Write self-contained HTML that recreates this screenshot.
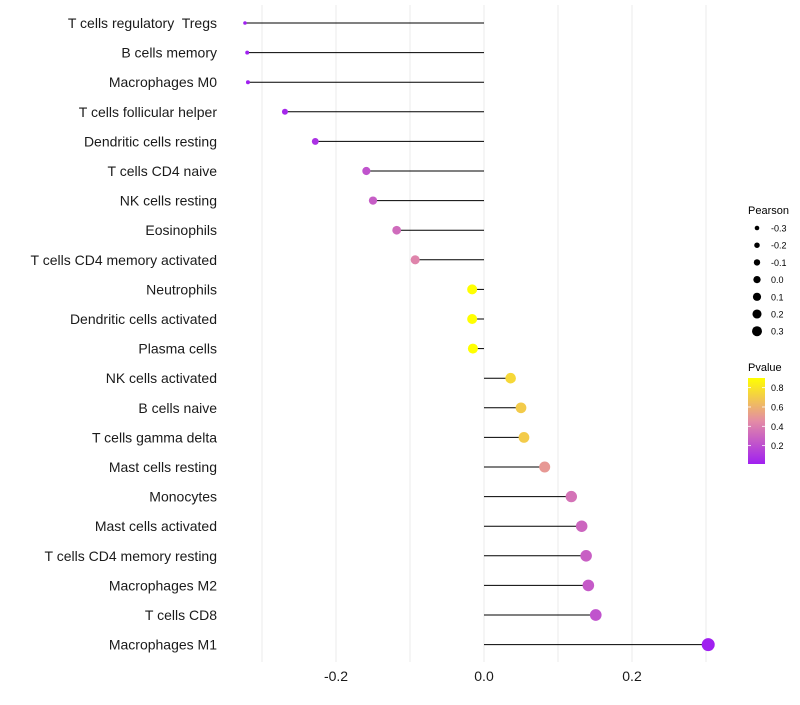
<!DOCTYPE html>
<html><head><meta charset="utf-8"><style>
body{margin:0;background:#fff;font-family:"Liberation Sans",sans-serif;}
text{white-space:pre;}
</style></head><body>
<svg id="chart" width="800" height="700" xmlns="http://www.w3.org/2000/svg" font-family="Liberation Sans, sans-serif">
<g id="grid"></g>
<g id="marks"></g>
<g id="ylab"></g>
<g id="xlab"></g>
<g id="legend"></g>
</svg>
<script>
const categories=["T cells regulatory  Tregs","B cells memory","Macrophages M0","T cells follicular helper","Dendritic cells resting","T cells CD4 naive","NK cells resting","Eosinophils","T cells CD4 memory activated","Neutrophils","Dendritic cells activated","Plasma cells","NK cells activated","B cells naive","T cells gamma delta","Mast cells resting","Monocytes","Mast cells activated","T cells CD4 memory resting","Macrophages M2","T cells CD8","Macrophages M1"];
const pearson=[-0.323,-0.320,-0.319,-0.269,-0.228,-0.159,-0.150,-0.118,-0.093,-0.016,-0.016,-0.015,0.036,0.050,0.054,0.082,0.118,0.132,0.138,0.141,0.151,0.303];
const pvalue=[0.01,0.01,0.01,0.04,0.08,0.22,0.26,0.32,0.42,0.9,0.9,0.9,0.75,0.7,0.7,0.5,0.35,0.3,0.27,0.25,0.22,0.01];
const xTicks=[-0.2,0.0,0.2];
const gridVals=[-0.3,-0.2,-0.1,0,0.1,0.2,0.3];
const sizeLegend=[-0.3,-0.2,-0.1,0.0,0.1,0.2,0.3];
const pLegend=[0.2,0.4,0.6,0.8];
const NS="http://www.w3.org/2000/svg";
const X=v=>484+v*740;
const Y=i=>23+i*29.6;
const R=v=>1.5+5*Math.sqrt(Math.max(0,(v+0.325))/0.63);
const pMin=0.01,pMax=0.9;
function col(p){
  let t=Math.min(1,Math.max(0,(p-pMin)/(pMax-pMin)));
  const s=[[0,[160,32,240]],[0.5,[228,140,165]],[1,[255,255,0]]];
  let a=t<0.5?s[0]:s[1],b=t<0.5?s[1]:s[2];
  let u=(t-a[0])/(b[0]-a[0]);
  const c=a[1].map((x,k)=>Math.round(x+(b[1][k]-x)*u));
  return `rgb(${c.join(",")})`;
}
function mk(tag,attrs,parent,text){const e=document.createElementNS(NS,tag);for(const k in attrs)e.setAttribute(k,attrs[k]);if(text!==undefined)e.textContent=text;parent.appendChild(e);return e;}
const grid=document.getElementById('grid'),marks=document.getElementById('marks'),ylab=document.getElementById('ylab'),xlab=document.getElementById('xlab'),leg=document.getElementById('legend');
gridVals.forEach(v=>{const l=mk('line',{x1:X(v),x2:X(v),y1:5,y2:662,stroke:'#ebebeb','stroke-width':1},grid);

});
categories.forEach((c,i)=>{
  const t=mk('text',{x:217,y:Y(i)+5,'text-anchor':'end','font-size':14,fill:'#1a1a1a'},ylab,c);
  
  
  const l=mk('line',{x1:X(0),x2:X(pearson[i]),y1:Y(i),y2:Y(i),stroke:'#000','stroke-width':1},marks);
  
  
  const d=mk('circle',{cx:X(pearson[i]),cy:Y(i),r:R(pearson[i]),fill:col(pvalue[i])},marks);
  
  
});
xTicks.forEach(v=>{const t=mk('text',{x:X(v),y:681,'text-anchor':'middle','font-size':14,fill:'#1a1a1a'},xlab,v.toFixed(1));

});
const t1=mk('text',{x:748,y:214,'font-size':11,fill:'#000'},leg,'Pearson');


sizeLegend.forEach((v,i)=>{const y=228+i*17.2;
 const c=mk('circle',{cx:757,cy:y,r:2.3+i*0.45,fill:'#000'},leg);
 
 
 const t=mk('text',{x:771,y:y+3.5,'font-size':9,fill:'#000'},leg,v.toFixed(1));
 
 });
const t2=mk('text',{x:748,y:371,'font-size':11,fill:'#000'},leg,'Pvalue');


const defs=mk('defs',{},leg);
const g=mk('linearGradient',{id:'pg',x1:0,y1:1,x2:0,y2:0},defs);
for(let k=0;k<=10;k++){mk('stop',{offset:k/10,'stop-color':col(pMin+(pMax-pMin)*k/10)},g);}
const bar=mk('rect',{x:748,y:378,width:17,height:86,fill:'url(#pg)'},leg);


const by=p=>464-(p-pMin)/(pMax-pMin)*86;
pLegend.forEach(p=>{
 mk('line',{x1:748,x2:751,y1:by(p),y2:by(p),stroke:'#fff','stroke-width':0.8},leg);
 mk('line',{x1:762,x2:765,y1:by(p),y2:by(p),stroke:'#fff','stroke-width':0.8},leg);
 const t=mk('text',{x:771,y:by(p)+3.5,'font-size':9,fill:'#000'},leg,p.toFixed(1));
 
 });
</script>
</body></html>
